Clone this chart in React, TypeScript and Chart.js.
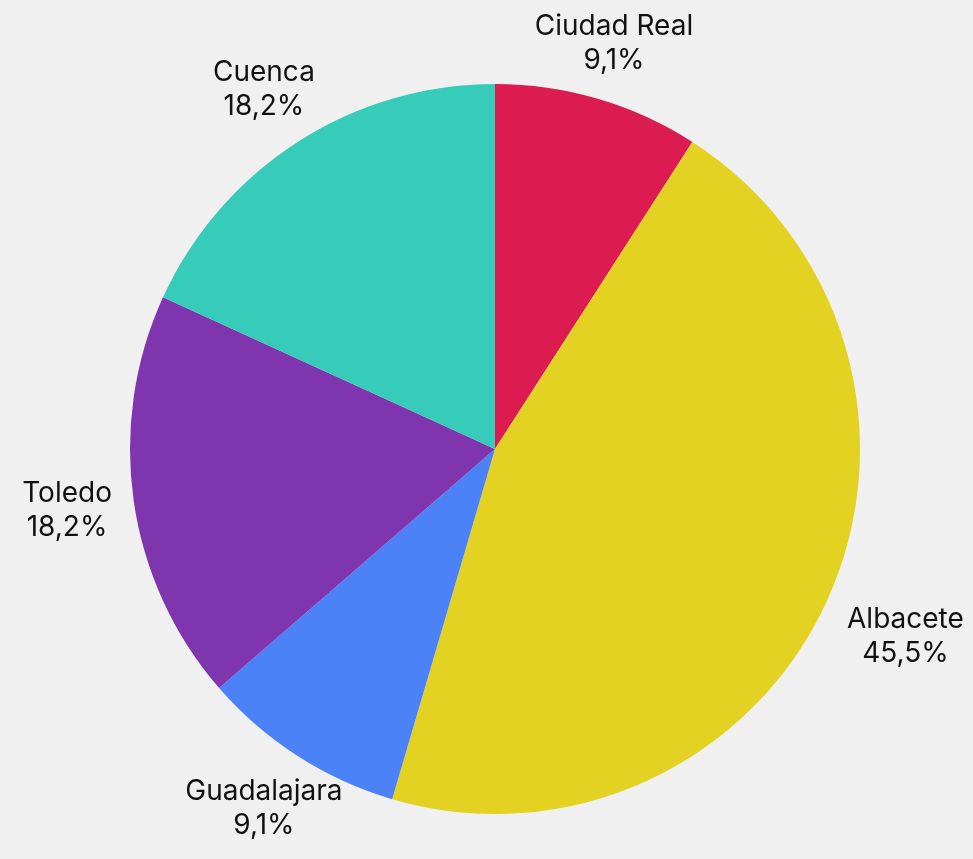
import React, { useEffect, useRef } from "react";
import { Chart, registerables } from "chart.js";

Chart.register(...registerables);

const provinces = ["Ciudad Real", "Albacete", "Guadalajara", "Toledo", "Cuenca"];
const counts = [1, 5, 1, 2, 2];
const percentLabels = ["9,1%", "45,5%", "9,1%", "18,2%", "18,2%"];
const sliceColors = ["#dc1c50", "#e3d222", "#4b82f7", "#7f35ad", "#36ccb9"];

const outsideLabels = {
  id: "outsideLabels",
  afterDatasetsDraw(chart: any) {
    const ctx = chart.ctx;
    const meta = chart.getDatasetMeta(0);
    ctx.save();
    ctx.font = "28px Inter, 'Noto Sans', sans-serif";
    ctx.fillStyle = "#111111";
    ctx.textAlign = "center";
    ctx.textBaseline = "middle";
    const lineH = 34;
    meta.data.forEach((arc: any, i: number) => {
      const { x, y, startAngle, endAngle, outerRadius } = arc.getProps(
        ["x", "y", "startAngle", "endAngle", "outerRadius"],
        true
      );
      const mid = (startAngle + endAngle) / 2;
      const dx = Math.cos(mid);
      const dy = Math.sin(mid);
      const lines = [provinces[i], percentLabels[i]];
      const w = Math.max(...lines.map((l) => ctx.measureText(l).width));
      const h = lines.length * lineH;
      // distance from label centre to its box edge along the ray
      const tx = Math.abs(dx) > 1e-6 ? w / 2 / Math.abs(dx) : Infinity;
      const ty = Math.abs(dy) > 1e-6 ? h / 2 / Math.abs(dy) : Infinity;
      const t = Math.min(tx, ty);
      const g = 22;
      const d = outerRadius + g + t;
      const cx = x + dx * d;
      const cy = y + dy * d;
      lines.forEach((l, k) => {
        ctx.fillText(l, cx, cy + (k - (lines.length - 1) / 2) * lineH);
      });
    });
    ctx.restore();
  },
};

export default function App() {
  const ref = useRef<HTMLCanvasElement>(null);
  useEffect(() => {
    document.body.style.margin = "0";
    document.body.style.background = "#f0f0f0";
    const chart = new Chart(ref.current!, {
      type: "pie",
      data: {
        labels: provinces,
        datasets: [
          {
            data: counts,
            backgroundColor: sliceColors,
            borderWidth: 0,
          },
        ],
      },
      options: {
        responsive: false,
        animation: false,
        layout: { padding: { top: 84, bottom: 45, left: 130, right: 113 } },
        plugins: { legend: { display: false }, tooltip: { enabled: false } },
      },
      plugins: [outsideLabels],
    });
    return () => chart.destroy();
  }, []);
  return (
    <div style={{ width: 973, height: 859, background: "#f0f0f0" }}>
      <canvas ref={ref} width={973} height={859} style={{ display: "block" }} />
    </div>
  );
}
